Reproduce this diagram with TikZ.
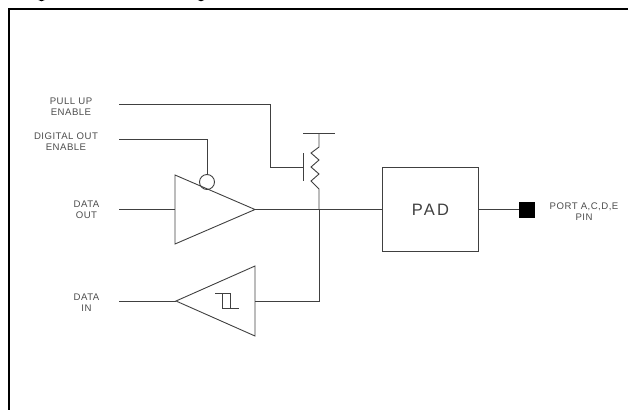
\documentclass[tikz,border=0pt]{standalone}
\usepackage{fontspec}
\setmainfont[LetterSpace=5]{Liberation Sans}
\usetikzlibrary{positioning}
\tikzset{
    wire/.style={draw=black!75,line width=.9pt},
    frame line/.style={draw=black,line width=2.4pt},
    pin label/.style={align=center,text=black!70,inner sep=0pt,font=\fontsize{9.6}{11}\selectfont},
    pad box/.style={wire,minimum width=96pt,minimum height=83.5pt,inner sep=0pt,text=black!75,font=\fontsize{16.5}{18}\selectfont\addfontfeature{LetterSpace=14}},
    port pin/.style={fill=black,minimum size=16pt,inner sep=0pt,outer sep=0pt},
    enable bubble/.style={wire,circle,minimum size=15pt,inner sep=0pt},
}
\begin{document}
\begin{tikzpicture}[x=1pt,y=-1pt]
    \useasboundingbox (0,0) rectangle (628,410);
    % heading is cut off by the crop, only its descenders remain
    \draw[line width=2.4pt] (36.5,-5) arc[start angle=180,end angle=360,radius=5pt];
    \draw[line width=2.4pt] (196,-5) arc[start angle=180,end angle=360,radius=5pt];
    \draw[frame line] (628,9) -- (9,9) -- (9,410);

    \node[pin label] (pullup) at (71,107) {PULL UP\\ENABLE};
    \node[pin label] (digout) at (66,141.5) {DIGITAL OUT\\ENABLE};
    \node[pin label] (dataout) at (86.5,210) {DATA\\OUT};
    \node[pin label] (datain) at (86.5,303) {DATA\\IN};
    \node[pad box,draw] (pad) at (430.5,209.5) {PAD};
    \node[port pin] (port) at (526.5,209.5) {};
    \node[pin label] (portlabel) at (584,211.5) {PORT A,C,D,E\\PIN};
    \node[enable bubble,draw] (bubble) at (207,182) {};

    \coordinate (pullstart) at (119,104);
    \coordinate (digstart) at (119,139.5);
    \coordinate (outstart) at (119,209.5);
    \coordinate (instart) at (119,301);
    \coordinate (outtop) at (175,175);
    \coordinate (outbottom) at (175,244);
    \coordinate (outtip) at (255,209.5);
    \coordinate (intop) at (255,266);
    \coordinate (inbottom) at (255,336);
    \coordinate (intip) at (176,301);
    \coordinate (gate) at (303,167);
    \coordinate (node) at (319,209.5);

    % output and input buffers
    \draw[wire] (outtop) -- (outtip) -- (outbottom) -- cycle;
    \draw[wire] (intop) -- (intip) -- (inbottom) -- cycle;
    \draw[wire] (215,293) -- (230,293) -- (230,308) -- (222.7,308) -- (222.7,293);
    \draw[wire] (230,308) -- (239,308);
    \draw[wire] (outstart) -- (outstart -| outtop);
    \draw[wire] (instart) -- (intip);

    % pull up device
    \draw[wire] (pullstart) -- (270,104) -- (270,167) -- (gate);
    \draw[wire] (303,153) -- (303,181);
    \draw[wire] (303,133) -- (335,133);
    \draw[wire] (319,133) -- (319,147) -- (311,153) -- (319,160) -- (311,167) -- (319,174) -- (311,181) -- (319,189) -- (node);

    \draw[wire] (digstart) -- (207,139.5) -- (bubble.north);
    \draw[wire] (outtip) -- (pad.west);
    \draw[wire] (node) -- (319,301) -- (255,301);
    \draw[wire] (pad.east) -- (port.west);
\end{tikzpicture}
\end{document}
